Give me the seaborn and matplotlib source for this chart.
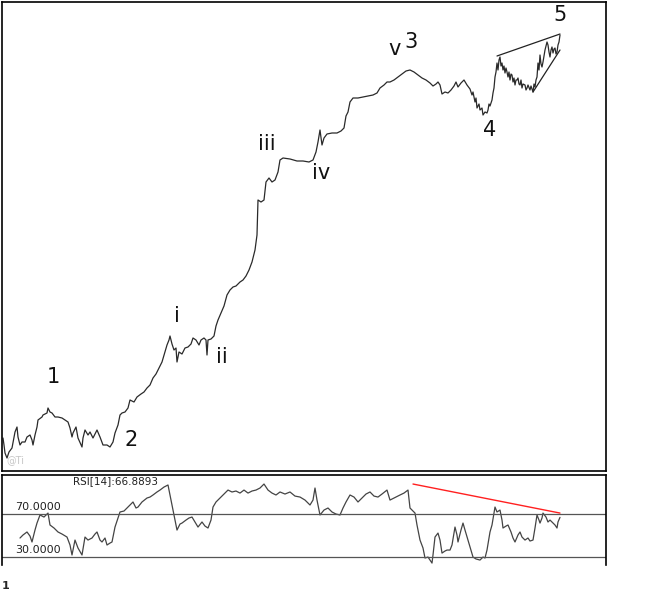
import numpy as np
import pandas as pd
import matplotlib
matplotlib.use("Agg")
import matplotlib.pyplot as plt
import seaborn as sns

# ---- data (bar index, price) ----
bar = [3,4,5,7,9,12,15,17,18,20,22,25,27,30,32,33,35,37,38,42,43,47,48,50,52,55,58,62,65,68,70,72,73,76,78,82,83,85,88,90,93,97,100,103,107,110,113,115,118,120,122,125,128,
       130,134,137,141,144,147,150,153,156,159,162,165,167,169,170,172,174,176,177,179,182,185,188,191,193,196,199,201,204,206,207,208,211,214,216,218,221,224,227,230,233,236,240,243,246,249,252,255,257,258,261,264,266,269,272,275,278,280,283,290,297,303,309,313,316,318,320,322,324,327,332,337,341,344,346,348,350,353,358,363,368,373,377,380,384,387,390,394,398,402,406,410,414,418,422,426,430,433,436,438,440,442,445,448,451,454,456,458,461,464,467,
       470,472,473,475,476,477,479,480,482,483,485,487,488,489,490,492,493,494,495,496,497,498,499,500,501,502,503,504,505,506,507,508,509,510,511,512,513,514,515,516,517,518,519,520,521,522,523,525,526,527,528,530,531,533,534,535,536,537,538,539,540,541,542,543,544,545,546,547,548,549,550,551,552,553,554,555,556,557,558,559,560]
price = [42,35,27,22,28,32,48,53,43,35,38,38,43,45,40,35,45,53,60,63,65,67,72,68,67,63,63,62,60,58,52,43,47,53,42,33,42,50,45,48,42,50,43,35,35,33,38,47,55,65,67,68,72,
         80,78,83,86,88,92,95,102,106,112,118,128,135,140,144,136,130,132,118,128,126,132,133,136,142,140,135,140,142,140,125,140,141,144,154,160,167,174,185,190,193,194,198,200,204,210,218,230,245,280,278,280,298,302,298,300,308,320,322,321,319,319,318,320,328,338,350,335,342,346,347,347,349,352,364,368,378,382,382,383,384,385,387,392,395,398,398,400,403,406,409,410,408,405,402,400,397,394,396,398,395,386,388,387,390,394,398,393,397,400,395,
         391,385,388,378,382,372,376,370,372,365,368,367,370,376,374,380,387,392,403,408,417,410,420,423,414,417,410,414,407,412,408,403,408,400,406,405,398,402,395,400,400,402,396,395,400,392,396,395,390,392,395,390,394,388,396,393,400,403,417,410,425,416,413,418,424,430,434,438,435,428,423,430,433,427,431,432,426,428,435,438,445]

# ---- RSI(14) ----
rsi_bar = [20,23,27,30,32,35,37,40,44,48,50,54,58,62,67,70,72,75,78,82,85,88,92,95,97,100,102,105,107,110,112,115,118,120,124,127,130,133,136,138,142,147,150,153,157,160,164,168,170,172,175,177,180,182,186,189,192,195,198,202,205,208,211,213,216,220,224,228,232,236,240,244,248,252,256,260,264,268,272,276,280,285,290,295,300,305,310,313,315,317,320,324,328,332,336,340,343,346,350,354,358,362,366,370,374,378,382,387,390,394,400,404,408,410,413,415,417,420,423,425,428,430,432,433,435,438,440,442,445,447,450,452,455,457,458,461,463,465,468,471,473,476,480,483,485,487,490,492,495,497,500,502,503,506,508,511,513,515,518,520,522,525,528,530,533,535,537,539,540,542,543,546,548,550,553,555,557,558,560]
rsi = [47.7,50.5,53.3,49.5,44.0,55.1,61.6,69.1,67.2,70.9,59.8,57.0,53.3,51.4,48.6,41.2,31.9,45.8,38.4,31.9,48.6,45.8,47.7,51.4,53.3,45.8,44.0,47.7,41.2,43.0,44.0,57.9,66.3,71.9,72.8,75.6,78.4,81.2,75.6,76.5,81.2,84.9,85.8,87.7,90.5,92.3,95.1,97.0,87.7,78.4,64.4,55.1,60.7,61.6,64.4,66.3,67.2,62.6,57.9,62.6,58.8,57.0,64.4,76.5,81.2,84.9,88.6,92.3,90.5,91.4,89.5,92.3,89.5,91.4,92.3,94.2,97.9,92.3,89.5,87.7,90.5,88.6,90.5,86.7,85.8,83.0,78.4,83.0,94.2,83.0,69.1,73.7,75.6,71.9,70.0,69.1,75.6,81.2,87.7,85.8,81.2,84.9,88.6,90.5,86.7,85.8,88.6,92.3,83.0,84.9,87.7,89.5,92.3,75.6,72.8,70.9,59.8,45.8,38.4,29.1,30.0,27.2,24.4,31.9,48.6,52.3,45.8,33.7,35.6,36.5,36.5,41.2,57.9,50.5,44.0,55.1,61.6,55.1,45.8,36.5,30.0,28.2,27.2,30.0,29.1,36.5,53.3,59.8,76.5,71.9,73.7,64.4,57.0,58.8,59.8,53.3,47.7,44.0,50.5,53.3,48.6,45.8,47.7,44.9,45.8,57.0,69.1,64.4,61.6,66.3,70.9,67.2,62.6,64.4,61.6,59.8,57.0,62.6,66.9]
rsi_levels = [70, 30]
rsi_level_labels = ["70.0000", "30.0000"]
rsi_title = "RSI[14]:66.8893"

# Elliott wave labels (text, bar, price)
wave_text = ["1", "2", "i", "ii", "iii", "iv", "v", "3", "4", "5"]
wave_bar = [53, 131, 177, 222, 267, 321, 395, 411, 490, 560]
wave_price = [103, 40, 164, 123, 336, 307, 431, 438, 350, 465]

# wedge trendlines (bar pairs, price pairs)
wedge_upper_bar = [497, 560]
wedge_upper_price = [424, 446]
wedge_lower_bar = [533, 560]
wedge_lower_price = [388, 430]
# RSI divergence line
div_bar = [413, 560]
div_rsi = [97.9, 70.9]

sns.set_style("white")
plt.rcParams["font.family"] = ["DejaVu Sans"]

W, H = 658, 609
fig = plt.figure(figsize=(W / 100, H / 100), dpi=100)
ax = fig.add_axes([2 / W, 1 - 471 / H, 604 / W, 469 / H])
ax2 = fig.add_axes([2 / W, 1 - 565 / H, 604 / W, 90 / H])

df = pd.DataFrame({"bar": bar, "price": price})
sns.lineplot(data=df, x="bar", y="price", ax=ax, color="#2a2a2a", linewidth=0.9)
ax.plot(wedge_upper_bar, wedge_upper_price, color="#222222", linewidth=0.9)
ax.plot(wedge_lower_bar, wedge_lower_price, color="#222222", linewidth=0.9)
for t, xb, yp in zip(wave_text, wave_bar, wave_price):
    ax.text(xb, yp, t, fontsize=15, ha="center", va="center", color="#111111")
ax.text(6, 20, "@Ti", fontsize=7, color="#c8c8c8", ha="left", va="center")
ax.set_xlim(2, 606)
ax.set_ylim(9, 478)
ax.set_xticks([]); ax.set_yticks([])
ax.set_xlabel(""); ax.set_ylabel("")
for s in ax.spines.values():
    s.set_color("black"); s.set_linewidth(1.2); s.set_visible(True)

dr = pd.DataFrame({"bar": rsi_bar, "rsi": rsi})
sns.lineplot(data=dr, x="bar", y="rsi", ax=ax2, color="#444444", linewidth=0.9)
for lv, lb in zip(rsi_levels, rsi_level_labels):
    ax2.axhline(lv, color="#555555", linewidth=0.9)
    ax2.text(15, lv + 1.5, lb, fontsize=8, color="#222222", ha="left", va="bottom")
ax2.plot(div_bar, div_rsi, color="#ff2020", linewidth=1.0)
ax2.text(73, 105, rsi_title, fontsize=7.5, color="#222222", ha="left", va="top")
ax2.set_xlim(2, 606)
ax2.set_ylim(22.6, 106.3)
ax2.set_xticks([]); ax2.set_yticks([])
ax2.set_xlabel(""); ax2.set_ylabel("")
for k, s in ax2.spines.items():
    s.set_color("black"); s.set_linewidth(1.2)
ax2.spines["bottom"].set_visible(False)

fig.text(2 / W, 1 - 586 / H, "1", fontsize=8, fontweight="bold", ha="left", va="center")

fig.savefig("out.png", dpi=100, facecolor="white")
